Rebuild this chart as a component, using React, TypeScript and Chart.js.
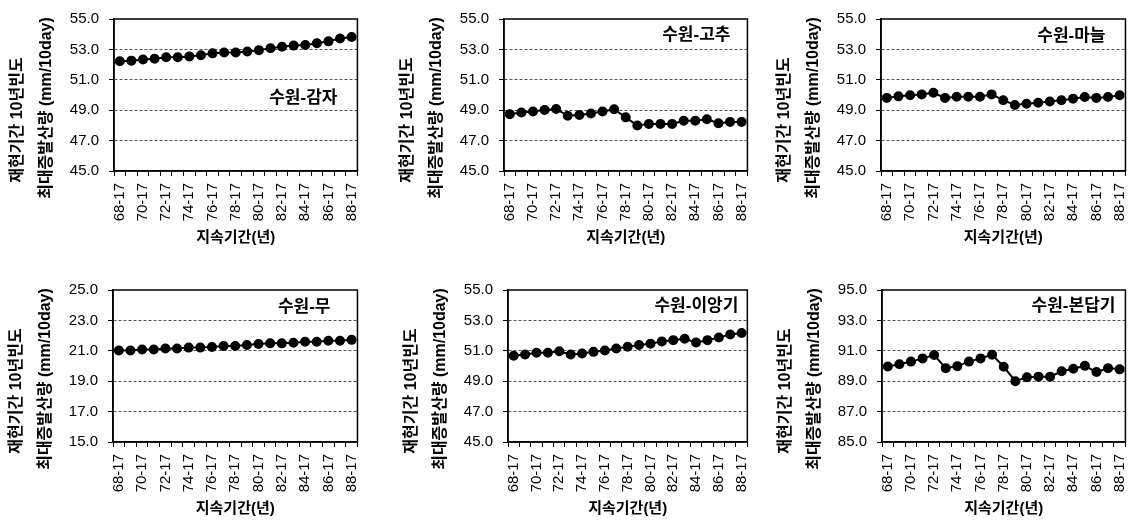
import React, { useEffect, useRef } from "react";
import { Chart, registerables } from "chart.js";

Chart.register(...registerables);

// ---- data ----
const categories = [
  "68-17", "69-17", "70-17", "71-17", "72-17", "73-17", "74-17", "75-17", "76-17", "77-17", "78-17",
  "79-17", "80-17", "81-17", "82-17", "83-17", "84-17", "85-17", "86-17", "87-17", "88-17",
];
const shownTickLabels = ["68-17", "70-17", "72-17", "74-17", "76-17", "78-17", "80-17", "82-17", "84-17", "86-17", "88-17"];

const gamjaValues = [52.22, 52.26, 52.33, 52.39, 52.48, 52.48, 52.54, 52.61, 52.74, 52.8, 52.8, 52.86, 52.95, 53.08, 53.18, 53.25, 53.29, 53.4, 53.53, 53.72, 53.82];
const gochuValues = [48.74, 48.85, 48.91, 49.02, 49.08, 48.63, 48.68, 48.78, 48.91, 49.06, 48.53, 47.99, 48.1, 48.1, 48.1, 48.31, 48.31, 48.4, 48.14, 48.23, 48.23];
const maneulValues = [49.81, 49.91, 49.98, 50.04, 50.15, 49.81, 49.89, 49.89, 49.89, 50.04, 49.66, 49.34, 49.42, 49.49, 49.57, 49.66, 49.76, 49.87, 49.81, 49.87, 49.98];
const muValues = [21.02, 21.02, 21.08, 21.08, 21.15, 21.15, 21.21, 21.21, 21.25, 21.32, 21.32, 21.38, 21.45, 21.49, 21.49, 21.53, 21.6, 21.6, 21.66, 21.66, 21.72];
const iangValues = [50.67, 50.76, 50.87, 50.87, 50.97, 50.76, 50.82, 50.93, 51.02, 51.15, 51.27, 51.38, 51.47, 51.62, 51.7, 51.79, 51.55, 51.7, 51.87, 52.07, 52.17];
const bondapValues = [89.97, 90.12, 90.29, 90.5, 90.72, 89.86, 89.99, 90.29, 90.5, 90.74, 89.95, 89.0, 89.26, 89.3, 89.3, 89.65, 89.82, 90.01, 89.6, 89.86, 89.78];

const panelTitles = ["수원-감자", "수원-고추", "수원-마늘", "수원-무", "수원-이앙기", "수원-본답기"];
const panelValues = [gamjaValues, gochuValues, maneulValues, muValues, iangValues, bondapValues];
const yMins = [45, 45, 45, 15, 45, 85];
const yMaxs = [55, 55, 55, 25, 55, 95];

const yTitleLines = ["재현기간 10년빈도", "최대증발산량 (mm/10day)"];
const xTitle = "지속기간(년)";

// ---- layout (pixel positions of each plot area on the page) ----
const layouts = [
  { left: 114, right: 362, top: 15, lx: 20, ly: 79 },
  { left: 504, right: 752, top: 15, lx: 17, ly: 16 },
  { left: 881, right: 1130, top: 15, lx: 20, ly: 17 },
  { left: 113, right: 362, top: 286, lx: 27, ly: 17 },
  { left: 508, right: 752, top: 286, lx: 9, ly: 16 },
  { left: 882, right: 1130, top: 286, lx: 10, ly: 16 },
];

const AXIS_W = 114;
const PAD_TOP = 15;
const PAD_RIGHT = 15;
const X_AXIS_H = 89;
const CANVAS_H = 260;
const Y_TITLE_X = [-96, -67];
const Y_TITLE_DY = [101, 89];
const FONT = "'Liberation Sans', Arial, 'Noto Sans CJK KR', sans-serif";

const boxPlugin = {
  id: "boxAndLabel",
  afterDatasetsDraw(chart: any) {
    const { ctx, chartArea } = chart;
    const opts = chart.options.plugins.boxAndLabel || {};
    ctx.save();
    ctx.strokeStyle = "#000";
    ctx.lineWidth = 1.5;
    ctx.strokeRect(chartArea.left, chartArea.top, chartArea.right - chartArea.left, chartArea.bottom - chartArea.top);
    if (opts.text) {
      ctx.font = `bold 17px ${FONT}`;
      ctx.fillStyle = "#000";
      ctx.textAlign = "right";
      ctx.textBaseline = "middle";
      ctx.fillText(opts.text, chartArea.right - opts.dx, chartArea.top + opts.dy);
    }
    // y-axis title (two rotated lines)
    ctx.font = `bold 16px ${FONT}`;
    ctx.fillStyle = "#000";
    ctx.textAlign = "center";
    ctx.textBaseline = "middle";
    yTitleLines.forEach((line, i) => {
      ctx.save();
      ctx.translate(chartArea.left + Y_TITLE_X[i], chartArea.top + Y_TITLE_DY[i]);
      ctx.rotate(-Math.PI / 2);
      ctx.fillText(line, 0, 0);
      ctx.restore();
    });
    ctx.restore();
  },
};

function Panel({ idx }: { idx: number }) {
  const ref = useRef<HTMLCanvasElement | null>(null);
  const lay = layouts[idx];
  const cLeft = lay.left - AXIS_W;
  const cTop = lay.top - PAD_TOP;
  const cWidth = lay.right - lay.left + AXIS_W + PAD_RIGHT;

  useEffect(() => {
    if (!ref.current) return;
    const min = yMins[idx];
    const max = yMaxs[idx];
    const chart = new Chart(ref.current, {
      type: "line",
      data: {
        labels: categories,
        datasets: [
          {
            data: panelValues[idx],
            borderColor: "#000",
            backgroundColor: "#000",
            borderWidth: 2,
            pointRadius: 4,
            pointHoverRadius: 4,
            pointBackgroundColor: "#000",
            pointBorderColor: "#000",
            tension: 0,
          },
        ],
      },
      options: {
        responsive: false,
        animation: false,
        devicePixelRatio: 1,
        layout: { padding: { left: 0, top: PAD_TOP, right: PAD_RIGHT, bottom: 0 } },
        plugins: {
          legend: { display: false },
          tooltip: { enabled: false },
          boxAndLabel: { text: panelTitles[idx], dx: lay.lx, dy: lay.ly },
        } as any,
        scales: {
          x: {
            type: "category",
            offset: true,
            afterFit: (s: any) => {
              s.height = X_AXIS_H;
            },
            grid: {
              offset: true,
              drawOnChartArea: false,
              drawTicks: true,
              tickLength: 5,
              tickColor: "#000",
              tickWidth: 1,
            },
            border: { display: true, color: "#000", width: 1.5 },
            ticks: {
              autoSkip: false,
              maxRotation: 90,
              minRotation: 90,
              padding: 7,
              color: "#000",
              font: { family: FONT, size: 15 },
              callback: (_v: any, i: number) => (shownTickLabels.includes(categories[i]) ? categories[i] : ""),
            },
            title: {
              display: true,
              text: xTitle,
              color: "#000",
              font: { family: FONT, size: 15, weight: "bold" },
              padding: { top: 0, bottom: 13 },
            },
          },
          y: {
            min,
            max,
            afterFit: (s: any) => {
              s.width = AXIS_W;
            },
            grid: {
              drawOnChartArea: true,
              drawTicks: true,
              tickLength: 5,
              tickColor: "#000",
              tickWidth: 1,
              tickBorderDash: [],
              lineWidth: 1,
              color: (c: any) =>
                c.tick && (c.tick.value === min || c.tick.value === max) ? "rgba(0,0,0,0)" : "#555",
            },
            border: { display: true, color: "#000", width: 1.5, dash: [3, 2] },
            ticks: {
              stepSize: 2,
              padding: 10,
              color: "#000",
              font: { family: FONT, size: 15 },
              callback: (v: any) => Number(v).toFixed(1),
            },
            title: { display: false },
          },
        },
      } as any,
      plugins: [boxPlugin],
    });
    return () => chart.destroy();
  }, [idx]);

  return (
    <canvas
      ref={ref}
      width={cWidth}
      height={CANVAS_H}
      style={{ position: "absolute", left: cLeft, top: cTop, width: cWidth, height: CANVAS_H }}
    />
  );
}

export default function App() {
  return (
    <div
      style={{
        position: "absolute",
        left: 0,
        top: 0,
        width: 1131,
        height: 520,
        overflow: "hidden",
        background: "#fff",
      }}
    >
      {layouts.map((_, i) => (
        <Panel key={i} idx={i} />
      ))}
    </div>
  );
}
